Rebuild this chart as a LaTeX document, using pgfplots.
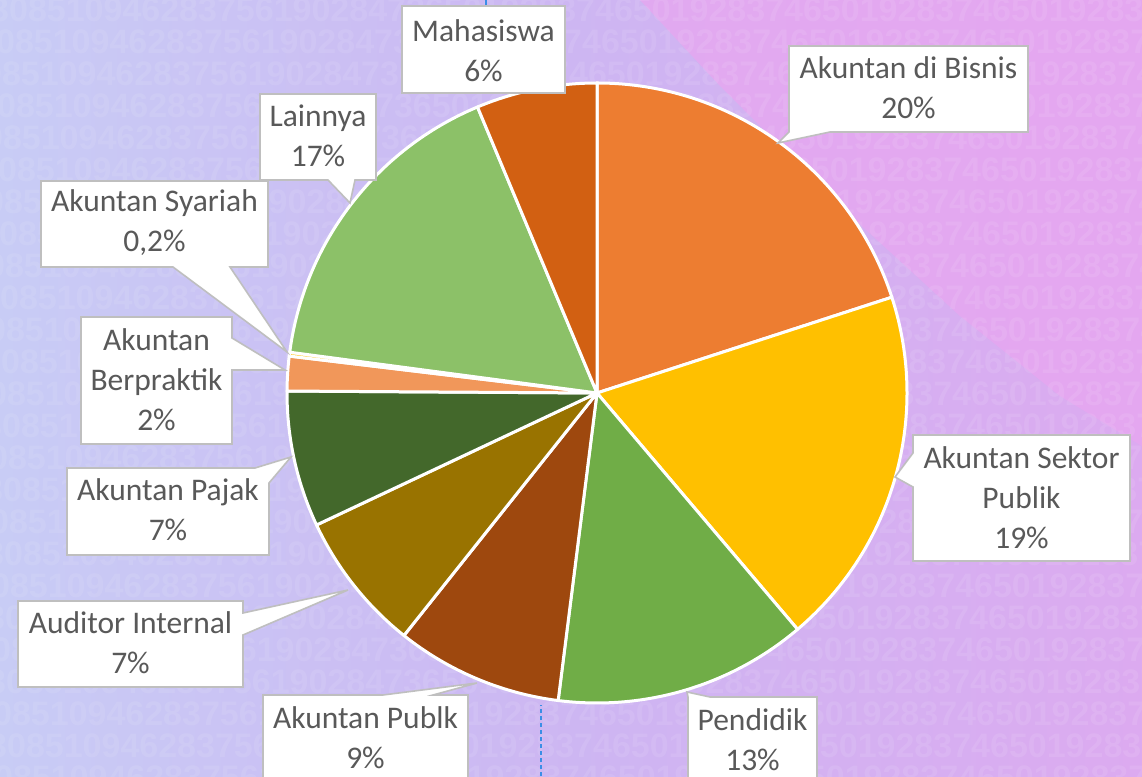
\documentclass[border=0pt]{standalone}
\usepackage{pgfplots}
\pgfplotsset{compat=1.18}
\usepackage{fontspec}
\setmainfont{Carlito}
\newfontfamily\digitfont{Liberation Sans}[BoldFont={* Bold}]
\definecolor{txtgray}{HTML}{595959}
\definecolor{boxgray}{HTML}{BFBFBF}
\definecolor{cA}{HTML}{ED7D31}
\definecolor{cB}{HTML}{FFC000}
\definecolor{cC}{HTML}{70AD47}
\definecolor{cD}{HTML}{9E480E}
\definecolor{cE}{HTML}{997300}
\definecolor{cF}{HTML}{43682B}
\definecolor{cG}{HTML}{F1975A}
\definecolor{cH}{HTML}{FFCD33}
\definecolor{cI}{HTML}{8CC168}
\definecolor{cJ}{HTML}{D26012}
\definecolor{bgL}{HTML}{C8CCF5}
\definecolor{bgM}{HTML}{CDB6F2}
\definecolor{bgR}{HTML}{DCAAF0}
\definecolor{bgP}{HTML}{E8A6F0}
\definecolor{guide}{HTML}{3A8EE6}
% data: percentages
\def\vA{20}   % Akuntan di Bisnis
\def\vB{18.8} % Akuntan Sektor Publik
\def\vC{13.2} % Pendidik
\def\vD{8.7}  % Akuntan Publk
\def\vE{7.3}  % Auditor Internal
\def\vF{7.1}  % Akuntan Pajak
\def\vG{1.8}  % Akuntan Berpraktik
\def\vH{0.2}  % Akuntan Syariah
\def\vI{16.6} % Lainnya
\def\vJ{6.3}  % Mahasiswa
\pgfmathsetmacro\sA{90}
\pgfmathsetmacro\sB{\sA-3.6*\vA}
\pgfmathsetmacro\sC{\sB-3.6*\vB}
\pgfmathsetmacro\sD{\sC-3.6*\vC}
\pgfmathsetmacro\sE{\sD-3.6*\vD}
\pgfmathsetmacro\sF{\sE-3.6*\vE}
\pgfmathsetmacro\sG{\sF-3.6*\vF}
\pgfmathsetmacro\sH{\sG-3.6*\vG}
\pgfmathsetmacro\sI{\sH-3.6*\vH}
\pgfmathsetmacro\sJ{\sI-3.6*\vI}
\newcommand{\slice}[3]{%
  \fill[#3, draw=white, line width=3pt, line join=round] (axis cs:597,383) -- ++({#1}:310pt)
    arc[start angle={#1}, end angle={#1-3.6*#2}, radius=310pt] -- cycle;}
\tikzset{callout/.style={fill=white, draw=boxgray, line width=1.6pt, line join=miter},
  lab/.style={text=txtgray, align=center, font=\fontsize{31.5}{40}\selectfont, inner sep=0pt},
  dig/.style={anchor=west, text=white, opacity=0.09, font=\digitfont\bfseries\fontsize{34}{34}\selectfont, inner sep=0pt}}
\begin{document}
\begin{tikzpicture}
\begin{axis}[x=1pt, y=1pt, xmin=0, xmax=1142, ymin=0, ymax=776, hide axis, clip=true, anchor=origin, at={(0,0)}]
% background
\fill[left color=bgL, right color=bgR, middle color=bgM] (axis cs:0,0) rectangle (axis cs:1142,776);
\fill[bgP, opacity=0.75] (axis cs:640,776) -- (axis cs:1142,776) -- (axis cs:1142,330) -- (axis cs:1060,380) -- (axis cs:960,460) -- (axis cs:840,570) -- (axis cs:720,690) -- cycle;
\pgfplotsinvokeforeach{0,...,24}{
  \node[dig] at (axis cs:{-10-mod(#1*13,27)},{766-32*#1}) {3085109462837561902847365019283746501928374650192837465019283746};
}
% pie slices
\slice{\sA}{\vA}{cA}
\slice{\sB}{\vB}{cB}
\slice{\sC}{\vC}{cC}
\slice{\sD}{\vD}{cD}
\slice{\sE}{\vE}{cE}
\slice{\sF}{\vF}{cF}
\slice{\sG}{\vG}{cG}
\slice{\sH}{\vH}{cH}
\slice{\sI}{\vI}{cI}
\slice{\sJ}{\vJ}{cJ}
% blue guide line
\draw[color=guide, dash pattern=on 4pt off 3pt, line width=1.2pt] (axis cs:541,0) -- (axis cs:541,71);
\draw[color=guide, line width=1.2pt] (axis cs:486,776) -- (axis cs:486,770);
% callouts
\draw[callout] (axis cs:402,770) rectangle (axis cs:565,683);
\node[lab] at (axis cs:483.5,725) {Mahasiswa\\6\%};
\draw[callout] (axis cs:789,730) -- (axis cs:1028,730) -- (axis cs:1028,644) -- (axis cs:830,644) -- (axis cs:778,633) -- (axis cs:789,644) -- cycle;
\node[lab] at (axis cs:908.5,688) {Akuntan di Bisnis\\20\%};
\draw[callout] (axis cs:260,682) -- (axis cs:376,682) -- (axis cs:376,596) -- (axis cs:355,596) -- (axis cs:350,573) -- (axis cs:328,596) -- (axis cs:260,596) -- cycle;
\node[lab] at (axis cs:318,640) {Lainnya\\17\%};
\draw[callout] (axis cs:41,595) -- (axis cs:268,595) -- (axis cs:268,509) -- (axis cs:230,509) -- (axis cs:287,424) -- (axis cs:173,509) -- (axis cs:41,509) -- cycle;
\node[lab] at (axis cs:154.5,553) {Akuntan Syariah\\0,2\%};
\draw[callout] (axis cs:81,459) -- (axis cs:232,459) -- (axis cs:232,438) -- (axis cs:285,406) -- (axis cs:232,406) -- (axis cs:232,332) -- (axis cs:81,332) -- cycle;
\node[lab] at (axis cs:156.5,396) {Akuntan\\Berpraktik\\2\%};
\draw[callout] (axis cs:67,308) -- (axis cs:255,308) -- (axis cs:291,319) -- (axis cs:269,293) -- (axis cs:269,221) -- (axis cs:67,221) -- cycle;
\node[lab] at (axis cs:168,266) {Akuntan Pajak\\7\%};
\draw[callout] (axis cs:18,175) -- (axis cs:243,175) -- (axis cs:243,163) -- (axis cs:348,186) -- (axis cs:243,141) -- (axis cs:243,89) -- (axis cs:18,89) -- cycle;
\node[lab] at (axis cs:130.5,133) {Auditor Internal\\7\%};
\draw[callout] (axis cs:263,81) -- (axis cs:383,81) -- (axis cs:477,93) -- (axis cs:433,81) -- (axis cs:468,81) -- (axis cs:468,-8) -- (axis cs:263,-8) -- cycle;
\node[lab] at (axis cs:365.5,38) {Akuntan Publk\\9\%};
\draw[callout] (axis cs:688,79) -- (axis cs:687,84) -- (axis cs:710,79) -- (axis cs:817,79) -- (axis cs:817,-8) -- (axis cs:688,-8) -- cycle;
\node[lab] at (axis cs:752.5,36) {Pendidik\\13\%};
\draw[callout] (axis cs:913,341) -- (axis cs:1130,341) -- (axis cs:1130,215) -- (axis cs:913,215) -- (axis cs:913,289) -- (axis cs:895,299) -- (axis cs:913,323) -- cycle;
\node[lab] at (axis cs:1021.5,278) {Akuntan Sektor\\Publik\\19\%};
\end{axis}
\end{tikzpicture}
\end{document}
